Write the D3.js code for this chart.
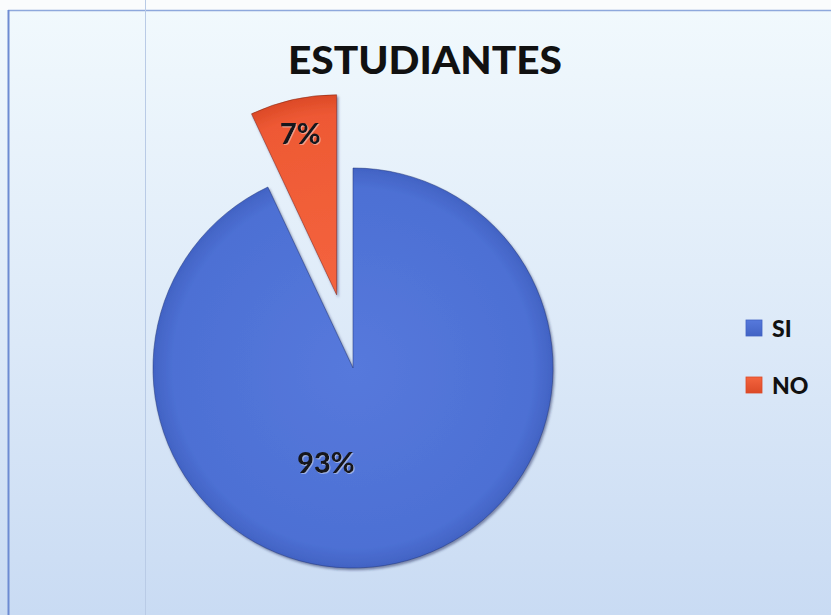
<!DOCTYPE html>
<html>
<head>
<meta charset="utf-8">
<script src="https://cdn.jsdelivr.net/npm/d3@7/dist/d3.min.js"></script>
<style>
  html, body { margin: 0; padding: 0; background: #fafcfd; }
  svg { display: block; }
</style>
</head>
<body>
<svg id="chart" width="831" height="615"></svg>
<script>
// Survey answers (percent of students)
const categories = ["SI", "NO"];
const values = [93, 7];
const valueLabels = ["93%", "7%"];
const chartTitle = "ESTUDIANTES";

const W = 831, H = 615;
const cx = 353, cy = 368, R = 200;
const explode = { NO: 75 };
const fills = {
  SI: { light: "#5679dc", base: "#4d70d4", dark: "#4263c4", stroke: "#22357a" },
  NO: { light: "#f4643e", base: "#ee5934", dark: "#dc4a27", stroke: "#7a2412" }
};

const svg = d3.select("#chart");
const defs = svg.append("defs");

// panel background: pale sky tone getting slightly bluer towards the bottom
const bg = defs.append("linearGradient").attr("id", "bg")
  .attr("x1", 0).attr("y1", 0).attr("x2", 0).attr("y2", 1);
bg.append("stop").attr("offset", "0%").attr("stop-color", "#f1f9fd");
bg.append("stop").attr("offset", "55%").attr("stop-color", "#dce9f8");
bg.append("stop").attr("offset", "100%").attr("stop-color", "#c9dbf3");

// radial shading for each slice and legend swatch
categories.forEach(c => {
  const g = defs.append("radialGradient").attr("id", "pie-" + c)
    .attr("gradientUnits", "userSpaceOnUse")
    .attr("cx", 0).attr("cy", 0).attr("r", R);
  g.append("stop").attr("offset", "0%").attr("stop-color", fills[c].light);
  g.append("stop").attr("offset", "90%").attr("stop-color", fills[c].base);
  g.append("stop").attr("offset", "100%").attr("stop-color", fills[c].dark);

  const s = defs.append("linearGradient").attr("id", "sw-" + c)
    .attr("x1", 0).attr("y1", 0).attr("x2", 0).attr("y2", 1);
  s.append("stop").attr("offset", "0%").attr("stop-color", fills[c].light);
  s.append("stop").attr("offset", "100%").attr("stop-color", fills[c].dark);
});

const shadow = defs.append("filter").attr("id", "shadow")
  .attr("x", "-10%").attr("y", "-10%").attr("width", "120%").attr("height", "120%");
shadow.append("feDropShadow").attr("dx", 1.5).attr("dy", 2).attr("stdDeviation", 1.2)
  .attr("flood-color", "#1c2a5c").attr("flood-opacity", 0.5);

const txtShadow = defs.append("filter").attr("id", "txtShadow")
  .attr("x", "-20%").attr("y", "-20%").attr("width", "140%").attr("height", "140%");
txtShadow.append("feDropShadow").attr("dx", 1).attr("dy", 1).attr("stdDeviation", 0.6)
  .attr("flood-color", "#ffffff").attr("flood-opacity", 0.4);

// background and frame
svg.append("rect").attr("x", 0).attr("y", 10).attr("width", W).attr("height", H - 10)
  .attr("fill", "url(#bg)");
svg.append("line").attr("x1", 8).attr("x2", W).attr("y1", 10.5).attr("y2", 10.5)
  .attr("stroke", "#8ea8dc").attr("stroke-width", 1.5);
svg.append("line").attr("x1", 8.5).attr("x2", 8.5).attr("y1", 10).attr("y2", H)
  .attr("stroke", "#6d8bd2").attr("stroke-width", 2);
svg.append("line").attr("x1", 145.5).attr("x2", 145.5).attr("y1", 0).attr("y2", H)
  .attr("stroke", "#b9cbe6").attr("stroke-width", 1);

// title
svg.append("text")
  .attr("x", 425).attr("y", 74)
  .attr("text-anchor", "middle")
  .attr("font-family", "Lato, 'Open Sans', sans-serif")
  .attr("font-weight", 900)
  .attr("font-size", 37)
  .attr("textLength", 274)
  .attr("lengthAdjust", "spacingAndGlyphs")
  .attr("fill", "#111111")
  .text(chartTitle);

// pie
const data = categories.map((c, i) => ({ cat: c, value: values[i], label: valueLabels[i] }));
const pie = d3.pie().value(d => d.value).sort(null).startAngle(0).endAngle(2 * Math.PI);
const arcs = pie(data);
const arc = d3.arc().innerRadius(0).outerRadius(R);

// label anchors relative to each slice's own origin (px)
const labelPos = {
  SI: (a) => [-27, 93],
  NO: (a) => {
    const mid = (a.startAngle + a.endAngle) / 2;
    return [Math.sin(mid) * R * 0.83, -Math.cos(mid) * R * 0.83];
  }
};

const slices = svg.append("g").attr("transform", `translate(${cx},${cy})`)
  .selectAll("g.slice").data(arcs).join("g").attr("class", "slice")
  .attr("transform", a => {
    const off = explode[a.data.cat] || 0;
    const mid = (a.startAngle + a.endAngle) / 2;
    return `translate(${Math.sin(mid) * off},${-Math.cos(mid) * off})`;
  });

slices.append("path")
  .attr("d", arc)
  .attr("fill", a => `url(#pie-${a.data.cat})`)
  .attr("stroke", a => fills[a.data.cat].stroke)
  .attr("stroke-opacity", 0.5)
  .attr("stroke-width", 1)
  .attr("filter", "url(#shadow)");

slices.append("text")
  .attr("transform", a => `translate(${labelPos[a.data.cat](a).join(",")})`)
  .attr("text-anchor", "middle")
  .attr("dominant-baseline", "central")
  .attr("font-family", "Lato, 'Open Sans', sans-serif")
  .attr("font-weight", 900)
  .attr("font-size", 29)
  .attr("fill", "#15151c")
  .attr("filter", "url(#txtShadow)")
  .text(a => a.data.label);

// legend
const legend = svg.append("g").attr("transform", "translate(746,320)");
const item = legend.selectAll("g").data(categories).join("g")
  .attr("transform", (d, i) => `translate(0,${i * 57})`);
item.append("rect")
  .attr("width", 16).attr("height", 16)
  .attr("fill", d => `url(#sw-${d})`)
  .attr("stroke", d => fills[d].dark).attr("stroke-width", 0.8);
item.append("text")
  .attr("x", 26).attr("y", 8)
  .attr("dominant-baseline", "central")
  .attr("font-family", "Lato, 'Open Sans', sans-serif")
  .attr("font-weight", 900)
  .attr("font-size", 23)
  .attr("fill", "#111111")
  .text(d => d);
</script>
</body>
</html>
